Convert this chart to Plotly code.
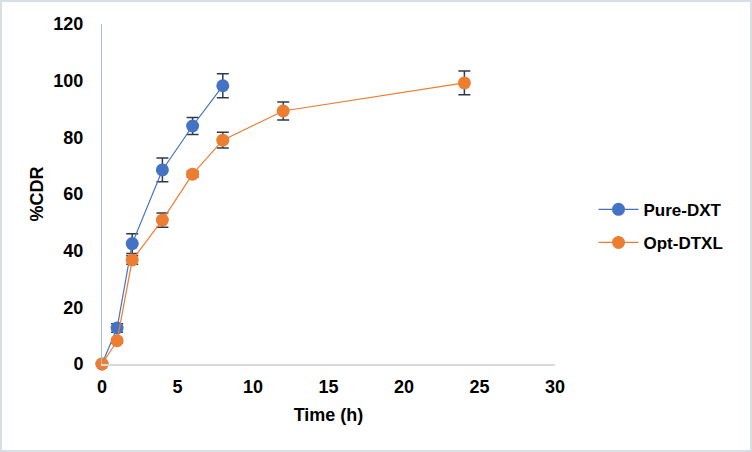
import plotly.graph_objects as go

time_pure = [0, 1, 2, 4, 6, 8]
cdr_pure = [0, 12.7, 42.5, 68.5, 84.0, 98.2]
err_pure = [0, 1.5, 3.5, 4.2, 3.0, 4.2]

time_opt = [0, 1, 2, 4, 6, 8, 12, 24]
cdr_opt = [0, 8.2, 36.7, 50.8, 67.0, 79.0, 89.3, 99.2]
err_opt = [0, 0.8, 1.5, 2.5, 1.0, 2.8, 3.2, 4.2]

x_ticks = [0, 5, 10, 15, 20, 25, 30]
y_ticks = [0, 20, 40, 60, 80, 100, 120]

FONT = "Liberation Sans, Arial, sans-serif"
ERR_COLOR = "#2E3A4B"
BOLD = dict(family=FONT, size=17, color="#000000", weight="bold")
BOLD18 = dict(family=FONT, size=18, color="#000000", weight="bold")

fig = go.Figure()
fig.add_trace(go.Scatter(
    x=time_pure, y=cdr_pure, name="Pure-DXT", mode="lines+markers", legendgroup="a",
    line=dict(color="#4472C4", width=1.2),
    marker=dict(color="#4472C4", size=13),
    error_y=dict(type="data", array=err_pure, color=ERR_COLOR, thickness=1.5, width=6),
    cliponaxis=False,
))
fig.add_trace(go.Scatter(
    x=time_opt, y=cdr_opt, name="Opt-DTXL", mode="lines+markers", legendgroup="b",
    line=dict(color="#ED7D31", width=1.2),
    marker=dict(color="#ED7D31", size=13),
    error_y=dict(type="data", array=err_opt, color=ERR_COLOR, thickness=1.5, width=6),
    cliponaxis=False,
))

L, R, T, B = 102, 197, 24, 88
W, H = 752, 452
pw, ph = W - L - R, H - T - B

fig.update_layout(
    width=W, height=H,
    margin=dict(l=L, r=R, t=T, b=B),
    paper_bgcolor="white", plot_bgcolor="white",
    font=dict(family=FONT, size=16, color="#000000"),
    showlegend=True,
    legend=dict(x=1.085, y=0.405, xanchor="left", yanchor="middle",
                font=BOLD, itemwidth=40,
                bgcolor="rgba(0,0,0,0)", tracegroupgap=8),
    xaxis=dict(
        range=[0, 30], tickvals=x_ticks, showgrid=False, zeroline=False,
        showline=True, linecolor="#D9D9D9", linewidth=1.5,
        ticks="outside", ticklen=6, tickcolor="rgba(0,0,0,0)",
        tickfont=BOLD18,
        title=dict(text="Time (h)", font=BOLD18, standoff=12),
    ),
    yaxis=dict(
        range=[0, 120], tickvals=y_ticks, showgrid=False, zeroline=False,
        showline=True, linecolor="#A9BBD6", linewidth=1,
        ticks="outside", ticklen=14, tickcolor="rgba(0,0,0,0)",
        tickfont=BOLD18,
        title=dict(text="%CDR", font=BOLD18, standoff=5),
    ),
    shapes=[dict(
        type="rect", xref="paper", yref="paper",
        x0=(1 - L) / pw, x1=(W - 1 - L) / pw,
        y0=(H - B - (H - 1)) / ph, y1=(H - B - 1) / ph,
        line=dict(color="#D9DEE5", width=2), fillcolor="rgba(0,0,0,0)", layer="below",
    )],
)

fig.write_html("out.html", config={"displayModeBar": False},
               post_script="document.body.style.margin='0';document.body.style.padding='0';")
